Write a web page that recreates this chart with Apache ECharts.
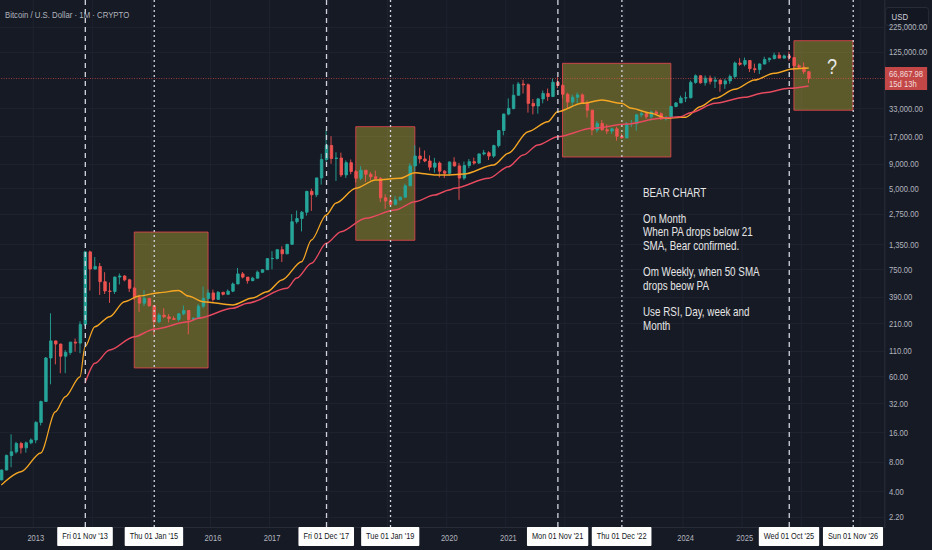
<!DOCTYPE html>
<html><head><meta charset="utf-8">
<script src="https://cdn.jsdelivr.net/npm/echarts@6/dist/echarts.min.js"></script>
<style>
html,body{margin:0;padding:0;background:#161a25;overflow:hidden;width:932px;height:550px;}
#c{width:1136px;height:550px;transform:scale(0.82042,1);transform-origin:0 0;}
</style>
</head><body><div id="c"></div>
<script>
const FONT = "'Liberation Sans',Arial,sans-serif";
const S = 932 / 1136; // horizontal condensing of the whole picture
const px = v => v / S;  // reference x-pixels -> drawing pixels

// ---- categories (monthly, Jun 2012 .. May 2027) ----
const startYear = 2012, startMonth = 6, monthCount = 180;
const categories = [];
for (let k = 0; k < monthCount; k++) {
  const m0 = startMonth - 1 + k;
  const y = startYear + Math.floor(m0 / 12);
  const m = (m0 % 12) + 1;
  categories.push(y + '-' + (m < 10 ? '0' : '') + m);
}
const yearLabels = ['2013', '2016', '2017', '2020', '2021', '2024', '2025'];
const yTicks = [2.2, 4, 8, 16, 32, 60, 110, 210, 390, 750, 1350, 2750, 5000, 9000, 17000, 33000, 125000, 225000];

// ---- monthly OHLC rows [open, high, low, close] ----
const ohlc2012 = [[5.27,6.7,5.2,6.65],[6.65,9.6,6.6,9.35],[9.35,15.4,7.1,10.2],[10.2,12.9,9.8,12.4],[12.4,12.9,9.8,11.2],[11.2,13,10,12.6],[12.6,14,12.2,13.5]];
const ohlc2013 = [[13.5,21,12.5,20.4],[20.4,34,19,33.4],[33.4,95,33,93],[93,266,50,139],[139,140,80,129],[129,130,65,97],[97,112,65,106],[106,136,100,135],[135,147,108,132],[132,220,104,204],[204,1160,197,1130],[1130,1163,455,754]];
const ohlc2014 = [[754,1000,750,803],[803,870,410,560],[560,700,420,450],[450,550,340,445],[445,630,420,625],[625,680,525,640],[640,655,565,585],[585,600,440,480],[480,495,365,387],[387,412,275,338],[338,458,315,378],[378,382,310,318]];
const ohlc2015 = [[318,320,160,218],[218,268,212,255],[255,300,238,245],[245,262,214,235],[235,248,229,230],[230,267,220,263],[263,320,254,284],[284,285,162,230],[230,244,225,236],[236,333,236,315],[315,500,300,377],[377,468,350,430]];
const ohlc2016 = [[430,465,350,369],[369,448,366,437],[437,439,406,416],[416,467,412,448],[448,549,438,531],[531,775,530,673],[673,704,605,624],[624,626,535,574],[574,628,567,609],[609,729,602,700],[700,755,686,743],[743,979,743,964]];
const ohlc2017 = [[964,1150,750,968],[968,1210,944,1190],[1190,1290,890,1080],[1080,1350,1070,1350],[1350,2750,1340,2300],[2300,2990,2200,2480],[2480,2950,1830,2880],[2880,4760,2650,4700],[4700,5000,2970,4340],[4340,6470,4100,6450],[6450,11400,5500,9950],[9950,19700,9400,13850]];
const ohlc2018 = [[13850,17200,9000,10200],[10200,11800,6000,10300],[10300,11700,6600,6920],[6920,9750,6440,9240],[9240,9960,7030,7500],[7500,7780,5780,6400],[6400,8500,6100,7730],[7730,7760,5880,7030],[7030,7400,6100,6630],[6630,7670,6200,6370],[6370,6590,3650,4040],[4040,4400,3120,3740]];
const ohlc2019 = [[3740,4100,3380,3460],[3460,4200,3370,3850],[3850,4150,3750,4100],[4100,5630,4080,5350],[5350,9100,5330,8550],[8550,13900,7500,10800],[10800,13200,9080,10080],[10080,12300,9350,9600],[9600,10950,7700,8300],[8300,10350,7300,9150],[9150,9500,6520,7560],[7560,7750,6430,7200]];
const ohlc2020 = [[7200,9580,6860,9350],[9350,10500,8450,8550],[8550,9190,3850,6420],[6420,9460,6150,8630],[8630,10070,8120,9450],[9450,10380,8830,9140],[9140,11450,8980,11350],[11350,12480,10960,11650],[11650,12070,9840,10780],[10780,14100,10370,13800],[13800,19900,13200,19700],[19700,29300,17600,28990]];
const ohlc2021 = [[28990,41950,28130,33110],[33110,58350,32300,45140],[45140,61780,45000,58800],[58800,64850,47050,57700],[57700,59600,30000,37300],[37300,41330,28800,35040],[35040,42420,29280,41460],[41460,50500,37330,47130],[47130,52920,39600,43820],[43820,67000,43300,61300],[61300,69000,53250,56950],[56950,59050,42000,46200]];
const ohlc2022 = [[46200,47990,32950,38480],[38480,45800,34300,43160],[43160,48190,37150,45510],[45510,47440,37500,37630],[37630,40000,26700,31790],[31790,31990,17600,19940],[19940,24650,18780,23290],[23290,25200,19520,20050],[20050,22800,18120,19420],[19420,21000,18190,20490],[20490,21470,15480,17170],[17170,18390,16260,16540]];
const ohlc2023 = [[16540,23960,16500,23130],[23130,25250,21350,23140],[23140,29190,19550,28470],[28470,31000,26940,29250],[29250,29820,25810,27220],[27220,31390,24750,30470],[30470,31800,28850,29230],[29230,30210,25330,25930],[25930,27480,24900,26970],[26970,35200,26540,34650],[34650,38420,34090,37720],[37720,44700,37630,42270]];
const ohlc2024 = [[42270,48970,38550,42580],[42580,63900,41880,61130],[61130,73800,59000,71290],[71290,72800,59100,60670],[60670,71950,56550,67490],[67490,71980,58400,62680],[62680,70000,53500,64620],[64620,65100,49100,58980],[58980,66500,52550,63330],[63330,73600,58900,70220],[70220,99800,66800,96400],[96400,108300,90500,93430]];
const ohlc2025 = [[93430,109600,89200,102400],[102400,102500,78200,84350],[84350,95000,76600,82550],[82550,95700,74500,94200],[94200,111900,93400,104600],[104600,110500,98200,107150],[107150,123200,105100,115760],[115760,124500,107300,108240],[108240,117900,107300,114050],[114050,126200,102000,109550],[109550,111000,80600,90400],[90400,94600,84400,87500]];
const ohlc2026 = [[87500,97900,74500,78600],[78600,79500,60000,66867.98]];

// ---- moving averages [month, value] ----
const sma21 = [['2012-06',4.67],['2012-10',6.39],['2013-02',9.93],['2013-05',26.2],['2013-07',37.4],['2013-10',59.8],['2013-11',121],['2014-01',194],['2014-04',246],['2014-07',350],['2014-10',400],['2015-02',432],['2015-06',455],['2015-08',400],['2015-11',350],['2016-05',324],['2016-09',381],['2016-12',443],['2017-03',583],['2017-07',897],['2017-09',1495],['2017-12',2693],['2018-02',3574],['2018-06',5051],['2018-10',6140],['2019-03',6390],['2019-06',7293],['2019-10',6908],['2020-01',6908],['2020-04',7071],['2020-10',8741],['2021-01',11519],['2021-05',19150],['2021-09',24230],['2021-11',30660],['2022-04',37360],['2022-08',40390],['2022-12',37360],['2023-02',33220],['2023-06',29530],['2023-09',26240],['2023-12',26900],['2024-01',26900],['2024-04',34500],['2024-07',42020],['2024-11',51950],['2025-03',64660],['2025-07',75750],['2025-11',84400],['2026-02',85800]];
const sma50 = [['2013-11',51.2],['2014-01',82],['2014-04',112],['2014-09',153],['2015-01',182.7],['2015-08',218],['2015-10',236.7],['2016-05',299],['2016-08',337],['2017-04',479],['2017-06',610],['2017-09',864],['2017-12',1384],['2018-03',1819],['2018-08',2493],['2019-02',3030],['2019-06',3686],['2019-10',4313],['2020-01',4853],['2020-02',5051],['2020-09',6390],['2021-01',8400],['2021-04',11060],['2021-07',14000],['2021-11',17020],['2022-06',20740],['2023-01',22950],['2023-08',26240],['2023-12',27260],['2024-02',29970],['2024-07',37360],['2025-01',43000],['2025-05',47960],['2025-10',53160],['2026-02',56170]];

// ---- annotations ----
const vLines = [['2013-11',"Fri 01 Nov '13",'dash'],['2015-01',"Thu 01 Jan '15",'dot'],['2017-12',"Fri 01 Dec '17",'dash'],['2019-01',"Tue 01 Jan '19",'dot'],['2021-11',"Mon 01 Nov '21",'dash'],['2022-12',"Thu 01 Dec '22",'dot'],['2025-10',"Wed 01 Oct '25",'dash'],['2026-11',"Sun 01 Nov '26",'dot']];
const boxes = [['2014-09','2015-12',1804,73.5],['2018-06','2019-06',21550,1485],['2021-12','2023-10',95800,10550],['2025-11','2026-11',163200,31700]];
const lastPrice = 66867.98;
const noteLines = ['BEAR CHART','','On Month','When PA drops below 21','SMA, Bear confirmed.','','Om Weekly, when 50 SMA','drops beow PA','','Use RSI, Day, week and','Month'];

const rows = [].concat(ohlc2012, ohlc2013, ohlc2014, ohlc2015, ohlc2016, ohlc2017, ohlc2018, ohlc2019, ohlc2020, ohlc2021, ohlc2022, ohlc2023, ohlc2024, ohlc2025, ohlc2026);
const candleData = rows.map(r => [r[0], r[3], r[2], r[1]]);

const fmt = v => Number(v).toLocaleString('en-US', {minimumFractionDigits: 2, maximumFractionDigits: 2});
const isYearShown = (i, v) => v.slice(5) === '01' && yearLabels.indexOf(v.slice(0, 4)) >= 0;
const isJan = (i, v) => v.slice(5) === '01';

const chart = echarts.init(document.getElementById('c'), null, {renderer: 'svg', width: 1136, height: 550});
chart.setOption({
  backgroundColor: '#161a25',
  animation: false,
  textStyle: {fontFamily: FONT},
  grid: {left: px(-1.15), right: px(47), top: 0, bottom: 23, containLabel: false, outerBoundsMode: 'none'},
  xAxis: {
    type: 'category', data: categories, boundaryGap: true,
    axisLine: {show: true, lineStyle: {color: '#2a2e39'}},
    axisTick: {show: false},
    axisLabel: {interval: isYearShown, formatter: v => v.slice(0, 4), color: '#b2b5be', fontSize: 9.2, margin: 6, fontFamily: FONT},
    splitLine: {show: true, interval: isJan, lineStyle: {color: '#1f2330', width: 1.2}}
  },
  yAxis: {
    type: 'log', logBase: 10, position: 'right', min: 1.738, max: 425300,
    axisLine: {show: true, lineStyle: {color: '#2a2e39'}},
    axisTick: {show: false, customValues: yTicks},
    axisLabel: {customValues: yTicks, formatter: v => fmt(v), color: '#b2b5be', fontSize: 9.3, margin: px(4), fontFamily: FONT},
    splitLine: {show: true, lineStyle: {color: '#1f2330', width: 1}}
  },
  series: [
    {
      type: 'candlestick', data: candleData, barWidth: px(3),
      itemStyle: {color: '#26a69a', color0: '#ef5350', borderColor: '#26a69a', borderColor0: '#ef5350', borderWidth: 1},
      markArea: {
        silent: true,
        itemStyle: {color: 'rgba(255,235,59,0.30)', borderColor: 'rgba(242,70,80,0.85)', borderWidth: 1},
        data: boxes.map(b => [{xAxis: b[0], yAxis: b[2]}, {xAxis: b[1], yAxis: b[3]}])
      },
      markLine: {
        silent: true, symbol: ['none', 'none'], animation: false,
        data: vLines.map(v => ({
          xAxis: v[0],
          lineStyle: {color: '#d1d4dc', width: 1.6, type: v[2] === 'dash' ? [5, 4] : [2, 3]},
          label: {show: true, position: 'start', distance: 0, formatter: v[1], backgroundColor: '#ffffff', color: '#131722', fontSize: 9, fontFamily: FONT, padding: [5, 6, 5, 6], borderRadius: 1}
        })).concat([{
          yAxis: lastPrice,
          lineStyle: {color: '#ef5350', width: 1, type: [1, 2], opacity: 0.8},
          label: {show: true, position: 'end', distance: 0, formatter: fmt(lastPrice) + '\n15d 13h', backgroundColor: '#ef5350', color: '#ffffff', fontSize: 9.3, lineHeight: 10.5, fontFamily: FONT, padding: [1, 5, 1, 5], align: 'left'}
        }])
      }
    },
    {type: 'line', data: sma21, symbol: 'none', smooth: 0.3, smoothMonotone: 'x', lineStyle: {color: '#f5a623', width: 1.5}, z: 3},
    {type: 'line', data: sma50, symbol: 'none', smooth: 0.3, smoothMonotone: 'x', lineStyle: {color: '#e84a5f', width: 1.5}, z: 3}
  ],
  graphic: [
    {type: 'text', left: px(5), top: 10, z: 100, style: {text: 'Bitcoin / U.S. Dollar · 1M · CRYPTO', fill: '#b2b5be', fontSize: 9.5, fontFamily: FONT}},
    {type: 'text', left: px(643), top: 185.5, z: 100, style: {text: noteLines.join('\n'), fill: '#e6e6e6', fontSize: 12, lineHeight: 13.3, fontFamily: FONT}},
    {type: 'text', x: px(832), y: 66, z: 100, style: {text: '?', fill: '#e6e6e6', fontSize: 22, fontFamily: FONT, align: 'center', verticalAlign: 'middle'}},
    {type: 'group', right: px(3), top: 7, z: 100, children: [
      {type: 'rect', shape: {x: 0, y: 0, width: px(43), height: 18, r: 3}, style: {fill: '#131722', stroke: '#2a2e39', lineWidth: 1}},
      {type: 'text', x: px(6), y: 9, style: {text: 'USD', fill: '#d1d4dc', fontSize: 9.5, fontFamily: FONT, verticalAlign: 'middle'}}
    ]}
  ]
});
</script></body></html>
